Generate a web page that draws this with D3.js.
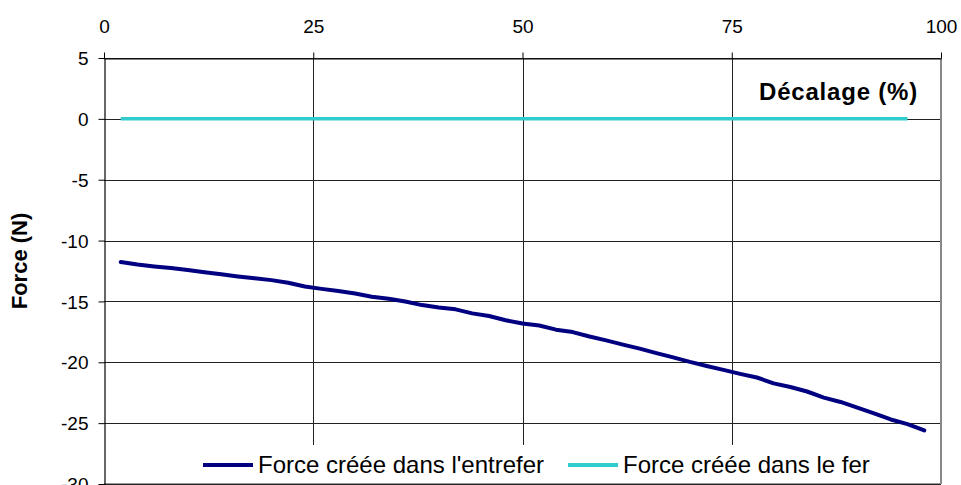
<!DOCTYPE html>
<html>
<head>
<meta charset="utf-8">
<script src="https://cdn.jsdelivr.net/npm/d3@7"></script>
<style>
  html, body { margin: 0; padding: 0; background: #fff; }
  svg { display: block; font-family: "Liberation Sans", Arial, sans-serif; }
</style>
</head>
<body>
<svg id="chart" width="961" height="485"></svg>
<script>
// Décalage (%) for each computed point
const decalageEntrefer = [2,4,6,8,10,12,14,16,18,20,22,24,26,28,30,32,34,36,38,40,42,44,46,48,50,
  52,54,56,58,60,62,64,66,68,70,72,74,76,78,80,82,84,86,88,90,92,94,96,98];
// Force (N) created in the air gap
const forceEntrefer = [-11.76,-11.97,-12.13,-12.26,-12.42,-12.60,-12.77,-12.95,-13.10,-13.25,
  -13.47,-13.77,-13.97,-14.15,-14.35,-14.62,-14.78,-15.00,-15.30,-15.50,
  -15.65,-15.98,-16.20,-16.55,-16.82,-16.98,-17.32,-17.52,-17.88,-18.20,
  -18.55,-18.88,-19.25,-19.60,-19.97,-20.30,-20.62,-20.95,-21.25,-21.73,
  -22.03,-22.40,-22.90,-23.26,-23.72,-24.20,-24.70,-25.08,-25.60];
// Force (N) created in the iron
const decalageFer = [2,4,6,8,10,12,14,16,18,20,22,24,26,28,30,32,34,36,38,40,42,44,46,48,50,
  52,54,56,58,60,62,64,66,68,70,72,74,76,78,80,82,84,86,88,90,92,94,96];
const forceFer = decalageFer.map(() => 0);

const xTicks = [0, 25, 50, 75, 100];
const yTicks = [5, 0, -5, -10, -15, -20, -25, -30];
const seriesNames = ["Force créée dans l'entrefer", "Force créée dans le fer"];
const seriesColors = ["#000080", "#33CCCC"];

const svg = d3.select("#chart");
const plotLeft = 104, plotRight = 941, plotTop = 58, plotBottom = 484;

const x = d3.scaleLinear().domain([0, 100]).range([plotLeft, plotRight]);
const y = d3.scaleLinear().domain([-30, 5]).range([plotBottom, plotTop]);

// horizontal gridlines
svg.append("g").selectAll("line").data(yTicks).join("line")
  .attr("x1", plotLeft).attr("x2", plotRight)
  .attr("y1", d => Math.round(y(d)) + 0.5).attr("y2", d => Math.round(y(d)) + 0.5)
  .attr("stroke", "#222").attr("stroke-width", 1);

// vertical gridlines
svg.append("g").selectAll("line").data([25, 50, 75]).join("line")
  .attr("x1", d => Math.round(x(d)) + 0.5).attr("x2", d => Math.round(x(d)) + 0.5)
  .attr("y1", plotTop).attr("y2", plotBottom)
  .attr("stroke", "#222").attr("stroke-width", 1);

// plot frame
svg.append("line").attr("x1", plotRight).attr("x2", plotRight).attr("y1", plotTop).attr("y2", plotBottom)
  .attr("stroke", "#888").attr("stroke-width", 2);
svg.append("line").attr("x1", plotLeft).attr("x2", plotRight)
  .attr("y1", plotBottom - 0.5).attr("y2", plotBottom - 0.5)
  .attr("stroke", "#999").attr("stroke-width", 1);

// axes
const xAxis = svg.append("g").attr("transform", `translate(0,${plotTop + 0.5})`)
  .call(d3.axisTop(x).tickValues(xTicks).tickSize(6).tickPadding(20).tickSizeOuter(0));
const yAxis = svg.append("g").attr("transform", `translate(${plotLeft + 0.5},0)`)
  .call(d3.axisLeft(y).tickValues(yTicks).tickSize(6).tickPadding(10).tickSizeOuter(0)
    .tickFormat(d => d));
[xAxis, yAxis].forEach(g => {
  g.select(".domain").attr("stroke", "#000").attr("stroke-width", 1.2);
  g.selectAll(".tick line").attr("stroke", "#000");
  g.selectAll("text").attr("fill", "#000").style("font-size", "19px")
    .style("font-family", "'Liberation Sans', Arial, sans-serif");
});
xAxis.selectAll(".tick text").attr("dy", "0.0em");
yAxis.selectAll(".tick text").attr("dy", "0.35em");

// series lines
const line = d3.line().x(d => x(d[0])).y(d => y(d[1]));
svg.append("path")
  .datum(decalageFer.map((d, i) => [d, forceFer[i]]))
  .attr("d", line).attr("fill", "none")
  .attr("stroke", seriesColors[1]).attr("stroke-width", 3.5);
svg.append("path")
  .datum(decalageEntrefer.map((d, i) => [d, forceEntrefer[i]]))
  .attr("d", line).attr("fill", "none")
  .attr("stroke", seriesColors[0]).attr("stroke-width", 4)
  .attr("stroke-linejoin", "round").attr("stroke-linecap", "round");

// axis titles
svg.append("text").attr("x", 918).attr("y", 100).attr("text-anchor", "end")
  .style("font-size", "24px").style("font-weight", "bold").style("letter-spacing", "0.8px")
  .text("Décalage (%)");
svg.append("text").attr("transform", "translate(27,261) rotate(-90)")
  .attr("text-anchor", "middle")
  .style("font-size", "22px").style("font-weight", "bold").text("Force (N)");

// legend
const legend = svg.append("g");
legend.append("rect").attr("x", 190).attr("y", 445).attr("width", 690).attr("height", 38)
  .attr("fill", "#fff");
const legendX = [203, 568];
seriesNames.forEach((name, i) => {
  legend.append("line").attr("x1", legendX[i]).attr("x2", legendX[i] + 50)
    .attr("y1", 465).attr("y2", 465)
    .attr("stroke", seriesColors[i]).attr("stroke-width", 4);
  legend.append("text").attr("x", legendX[i] + 55).attr("y", 473)
    .style("font-size", "24px").text(name);
});
</script>
</body>
</html>
